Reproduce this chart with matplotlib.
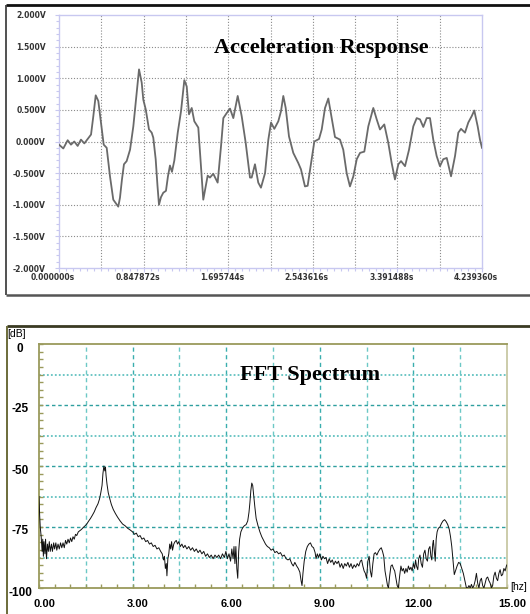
import matplotlib
matplotlib.use('Agg')
import matplotlib.pyplot as plt
from matplotlib.lines import Line2D
from matplotlib.ticker import MultipleLocator
import matplotlib.transforms as mtrans

# ---------------- data ----------------
acc_time = [0.000, 0.043, 0.087, 0.120, 0.153, 0.187, 0.220, 0.254, 0.288, 0.321,
            0.344, 0.368, 0.394, 0.421, 0.448, 0.478, 0.511, 0.544, 0.594, 0.611,
            0.631, 0.651, 0.678, 0.712, 0.745, 0.779, 0.802, 0.829, 0.845, 0.869,
            0.902, 0.929, 0.945, 0.969, 0.987, 1.002, 1.022, 1.045, 1.072, 1.092,
            1.112, 1.132, 1.156, 1.190, 1.223, 1.256, 1.280, 1.303, 1.330, 1.356,
            1.396, 1.423, 1.446, 1.490, 1.513, 1.546, 1.590, 1.624, 1.647, 1.681,
            1.714, 1.747, 1.791, 1.831, 1.871, 1.914, 1.931, 1.964, 1.997, 2.024,
            2.065, 2.098, 2.125, 2.158, 2.198, 2.225, 2.248, 2.272, 2.305, 2.348,
            2.398, 2.425, 2.465, 2.492, 2.526, 2.559, 2.606, 2.633, 2.666, 2.699,
            2.733, 2.766, 2.816, 2.849, 2.883, 2.916, 2.950, 2.984, 3.017, 3.060,
            3.100, 3.150, 3.184, 3.217, 3.260, 3.300, 3.334, 3.367, 3.401, 3.428,
            3.468, 3.508, 3.551, 3.585, 3.618, 3.651, 3.685, 3.718, 3.751, 3.785,
            3.818, 3.851, 3.886, 3.929, 3.969, 4.002, 4.029, 4.069, 4.102, 4.136,
            4.162, 4.196, 4.219, 4.239]
acc_volt = [-0.05, -0.11, 0.02, -0.05, 0.00, -0.07, 0.03, -0.03, 0.04, 0.11,
            0.40, 0.73, 0.64, 0.30, -0.05, -0.10, -0.55, -0.92, -1.03, -0.89,
            -0.60, -0.36, -0.31, -0.13, 0.24, 0.77, 1.14, 0.93, 0.66, 0.51,
            0.19, 0.14, 0.06, -0.28, -0.70, -1.00, -0.88, -0.81, -0.78, -0.55,
            -0.38, -0.48, -0.30, 0.14, 0.48, 0.97, 0.87, 0.43, 0.53, 0.32,
            0.22, -0.40, -0.92, -0.54, -0.57, -0.51, -0.65, -0.07, 0.37, 0.45,
            0.52, 0.37, 0.72, 0.40, -0.02, -0.57, -0.57, -0.36, -0.65, -0.73,
            -0.50, 0.03, 0.30, 0.20, 0.32, 0.48, 0.72, 0.53, 0.08, -0.18,
            -0.34, -0.44, -0.71, -0.70, -0.34, 0.00, 0.04, 0.19, 0.53, 0.68,
            0.37, 0.07, 0.03, -0.13, -0.50, -0.71, -0.55, -0.28, -0.18, -0.16,
            0.24, 0.53, 0.35, 0.19, 0.27, -0.02, -0.34, -0.60, -0.36, -0.31,
            -0.39, -0.13, 0.24, 0.37, 0.35, 0.23, 0.37, 0.37, 0.03, -0.23,
            -0.39, -0.28, -0.26, -0.55, -0.23, 0.14, 0.20, 0.14, 0.30, 0.40,
            0.49, 0.24, 0.03, -0.10]

acc_yticks = [2.0, 1.5, 1.0, 0.5, 0.0, -0.5, -1.0, -1.5, -2.0]
acc_ylabels = ['2.000V', '1.500V', '1.000V', '0.500V', '0.000V',
               '-0.500V', '-1.000V', '-1.500V', '-2.000V']
acc_xticks = [0.0, 0.847872, 1.695744, 2.543616, 3.391488, 4.239360]
acc_xlabels = ['0.000000s', '0.847872s', '1.695744s', '2.543616s', '3.391488s', '4.239360s']

fft_freq = [0.00, 0.02, 0.04, 0.07, 0.10, 0.12, 0.14, 0.16, 0.19, 0.21, 0.24, 0.27, 0.30, 0.33, 0.36,
            0.40, 0.43, 0.47, 0.50, 0.54, 0.57, 0.61, 0.65, 0.69, 0.73, 0.77, 0.81, 0.85, 0.89, 0.93,
            0.97, 1.01, 1.05, 1.09, 1.13, 1.17, 1.21, 1.26, 1.31, 1.36, 1.41, 1.47, 1.53, 1.59, 1.65,
            1.71, 1.77, 1.83, 1.89, 1.94, 1.98, 2.02, 2.05, 2.08, 2.11, 2.13, 2.15, 2.18, 2.22, 2.27,
            2.32, 2.38, 2.45, 2.52, 2.60, 2.68, 2.76, 2.84, 2.92, 3.00, 3.06, 3.12, 3.18, 3.24, 3.30,
            3.36, 3.42, 3.48, 3.54, 3.60, 3.66, 3.72, 3.78, 3.84, 3.90, 3.95, 3.99, 4.02, 4.05, 4.08,
            4.10, 4.13, 4.16, 4.19, 4.22, 4.25, 4.28, 4.32, 4.36, 4.40, 4.44, 4.48, 4.53, 4.58, 4.63,
            4.68, 4.74, 4.80, 4.86, 4.92, 4.98, 5.04, 5.10, 5.16, 5.22, 5.28, 5.34, 5.40, 5.46, 5.52,
            5.58, 5.64, 5.70, 5.76, 5.82, 5.88, 5.94, 5.99, 6.04, 6.09, 6.14, 6.18, 6.22, 6.25, 6.28,
            6.31, 6.34, 6.37, 6.40, 6.43, 6.47, 6.52, 6.58, 6.64, 6.69, 6.73, 6.76, 6.79, 6.82, 6.85,
            6.88, 6.92, 6.96, 7.02, 7.08, 7.14, 7.20, 7.26, 7.32, 7.38, 7.44, 7.50, 7.56, 7.62, 7.68,
            7.74, 7.80, 7.86, 7.92, 7.98, 8.04, 8.10, 8.15, 8.20, 8.26, 8.31, 8.36, 8.40, 8.43, 8.46,
            8.50, 8.55, 8.60, 8.65, 8.70, 8.75, 8.80, 8.85, 8.88, 8.92, 8.96, 9.00, 9.05, 9.10, 9.15,
            9.20, 9.25, 9.30, 9.35, 9.40, 9.45, 9.50, 9.55, 9.60, 9.65, 9.70, 9.75, 9.80, 9.85, 9.90,
            9.95, 10.00, 10.05, 10.10, 10.15, 10.20, 10.25, 10.30, 10.34, 10.38, 10.42, 10.46, 10.50, 10.54, 10.58,
            10.62, 10.66, 10.70, 10.74, 10.78, 10.83, 10.88, 10.93, 10.97, 11.01, 11.05, 11.09, 11.13, 11.17, 11.20,
            11.24, 11.28, 11.32, 11.36, 11.40, 11.44, 11.48, 11.52, 11.56, 11.60, 11.64, 11.68, 11.72, 11.76, 11.80,
            11.84, 11.88, 11.92, 11.96, 12.00, 12.04, 12.07, 12.10, 12.14, 12.17, 12.21, 12.25, 12.29, 12.33, 12.37,
            12.41, 12.45, 12.49, 12.53, 12.56, 12.59, 12.62, 12.64, 12.67, 12.70, 12.73, 12.76, 12.80, 12.85, 12.90,
            12.95, 13.00, 13.05, 13.10, 13.15, 13.19, 13.23, 13.27, 13.31, 13.35, 13.40, 13.45, 13.50, 13.55, 13.60,
            13.65, 13.70, 13.74, 13.78, 13.82, 13.86, 13.90, 13.94, 13.98, 14.02, 14.06, 14.10, 14.14, 14.18, 14.22,
            14.26, 14.30, 14.34, 14.38, 14.42, 14.46, 14.50, 14.54, 14.58, 14.62, 14.66, 14.70, 14.74, 14.78, 14.82,
            14.86, 14.90, 14.94, 14.98, 15.00]
fft_db = [-62.5, -70, -75, -79, -85, -80, -87, -81, -86, -80, -88, -82, -85, -81, -85,
          -82, -85, -81.5, -84, -81.5, -84.5, -82, -84, -81.5, -83.5, -81.5, -83.5, -80.5, -82, -80,
          -81.5, -79.5, -81, -79, -80, -78, -78.5, -77, -76.5, -76, -75.3, -74.6, -73.8, -72.6, -71.5,
          -70.2, -68.8, -67, -65.5, -63.5, -61, -58, -53, -50, -52, -50.5, -54, -57.5, -61, -63.5,
          -65.8, -67.8, -69.5, -71, -72.5, -73.8, -74.5, -75.5, -76.2, -77, -78, -77.5, -79, -78.5, -80,
          -79.5, -81, -80.5, -82, -81.5, -83, -82.5, -84, -83.5, -85, -86, -88.5, -87, -92, -90,
          -95, -88, -86, -82, -84, -81, -84.5, -82, -81, -80.5, -82, -81, -83, -82, -83.5,
          -82.5, -84, -83, -84.5, -83.5, -85, -84, -85.5, -84.5, -86, -85, -87, -86, -87.5, -86.5,
          -88, -86.5, -87.5, -86.5, -88, -86, -87.5, -85, -88, -86, -89, -84, -88, -83, -90,
          -83, -92, -96, -85, -80, -77, -75.5, -74.5, -74, -72.5, -69, -65, -60, -57, -58,
          -62, -67, -71.5, -74.5, -77, -79, -80.5, -82, -83, -83.5, -84.5, -84, -85.5, -85, -86,
          -85.5, -87, -86.5, -88, -88.5, -88, -90, -91, -89.5, -91, -92, -93.5, -97, -99, -94,
          -89, -85, -83, -82, -81.5, -83, -83.5, -85.5, -88, -86, -87.5, -86, -88.5, -87, -88,
          -87.5, -90, -88, -89.5, -88.5, -90.5, -89, -90, -89, -91.5, -90, -92, -90, -91, -89.5,
          -91.5, -90, -92, -90.5, -91.5, -90, -91, -89, -88.5, -91, -93, -94, -96, -89, -87,
          -93, -95.5, -90, -86, -85.5, -86.5, -85, -84, -83.5, -85, -87, -93, -96, -99, -100,
          -95, -91, -90.5, -92, -93, -96, -99, -100, -95, -91, -93, -92, -94, -92, -93.5,
          -91, -92.5, -91.5, -93, -90, -92, -88.5, -91, -92.5, -88, -86.5, -90, -91.5, -86, -84.5,
          -88, -89, -84, -83, -87, -88.5, -82, -80.5, -85, -89, -80, -77, -75.5, -75, -73.5,
          -72.5, -72, -72.8, -74, -76, -79, -83, -89, -94.5, -93, -91, -89.5, -90, -92, -94,
          -97, -100, -100, -99, -100, -98.5, -100, -99, -97, -94, -98, -100, -97, -96, -99,
          -100, -98, -96, -95.5, -97, -98, -100, -99, -95, -93.5, -96, -97, -94, -92.5, -95,
          -94.5, -92, -93, -91, -90.5]

fft_xticks = [0, 3, 6, 9, 12, 15]
fft_xlabels = ['0.00', '3.00', '6.00', '9.00', '12.00', '15.00']
fft_yticks = [0, -25, -50, -75, -100]
fft_ylabels = ['0', '-25', '-50', '-75', '-100']

# ---------------- layout ----------------
W, H = 530, 614
fig = plt.figure(figsize=(W / 100, H / 100), dpi=100)
fig.patch.set_facecolor('white')


def fx(px):
    return px / W


def fy(py):
    return 1 - py / H


def fline(x0, y0, x1, y1, color, lw):
    fig.add_artist(Line2D([fx(x0), fx(x1)], [fy(y0), fy(y1)], transform=fig.transFigure,
                          color=color, lw=lw, solid_capstyle='butt'))


# panel frames
fline(6, 5, 530, 5, '#111111', 2.0)
fline(6, 5, 6, 295, '#333333', 1.2)
fline(6, 295, 530, 295, '#555555', 1.8)

fline(7, 326, 530, 326, '#3a3a22', 2.0)
fline(7, 326, 7, 614, '#6b6b3a', 1.4)

NARROW = ['Liberation Sans', 'DejaVu Sans']

# ---------------- acceleration panel ----------------
ax1 = fig.add_axes([fx(59), fy(268), (482 - 59) / W, (268 - 15) / H])
xmax = acc_xticks[-1]
ax1.set_xlim(0, xmax)
ax1.set_ylim(-2, 2)
step = acc_xticks[1] / 2
for k in range(1, 10):
    ax1.axvline(k * step, color='#8a8a8a', lw=0.8, ls=(0, (1, 1.6)), zorder=1)
for yv in acc_yticks[1:-1]:
    ax1.axhline(yv, color='#8a8a8a', lw=0.8, ls=(0, (1, 1.6)), zorder=1)
ax1.plot(acc_time, acc_volt, color='#6a6a6a', lw=1.3, zorder=3)
for sp in ax1.spines.values():
    sp.set_color('#c8c8f0')
    sp.set_linewidth(1.0)
ax1.set_yticks(acc_yticks, acc_ylabels)
ax1.set_xticks(acc_xticks, acc_xlabels)
ax1.yaxis.set_minor_locator(MultipleLocator(0.1))
ax1.xaxis.set_minor_locator(MultipleLocator(step / 6))
ax1.tick_params(axis='both', which='both', direction='out', color='#c8c8f0', width=0.8)
ax1.tick_params(axis='both', which='major', length=3)
ax1.tick_params(axis='both', which='minor', length=2)
ax1.tick_params(axis='y', which='major', pad=6.5, labelsize=5.5, labelcolor='#333333')
ax1.tick_params(axis='x', which='major', pad=0.5, labelsize=5.5, labelcolor='#333333')
for lab in ax1.get_yticklabels() + ax1.get_xticklabels():
    lab.set_fontweight('bold')
for lab in ax1.get_xticklabels():
    lab.set_transform(lab.get_transform() + mtrans.ScaledTranslation(-0.06, 0, fig.dpi_scale_trans))
ax1.text(0.6194, 0.851, 'Acceleration Response', transform=ax1.transAxes, ha='center',
         va='baseline', family='Liberation Serif', fontweight='bold', fontsize=16, zorder=5)

# ---------------- FFT panel ----------------
ax2 = fig.add_axes([fx(39), fy(588), (507 - 39) / W, (588 - 344) / H])
ax2.set_xlim(0, 15)
ax2.set_ylim(-100, 0)
for k in range(1, 10):
    xv = k * 1.5
    col = '#3aaeae' if k % 2 == 0 else '#6cc8c6'
    ax2.axvline(xv, color=col, lw=1.0, ls=(0, (3, 2.5)), zorder=1)
for k in range(1, 8):
    yv = -12.5 * k
    if k % 2 == 0:
        ax2.axhline(yv, color='#2f9f9f', lw=1.0, ls=(0, (2.5, 2)), zorder=1)
    else:
        ax2.axhline(yv, color='#62c2c0', lw=1.3, ls=(0, (1, 1.2)), zorder=1)
ax2.plot(fft_freq, fft_db, color='#111111', lw=0.7, zorder=3)
for name, sp in ax2.spines.items():
    sp.set_color('#9a9a5c')
    sp.set_linewidth(1.3)
ax2.spines['right'].set_color('#c8c8a4')
ax2.set_xticks(fft_xticks, fft_xlabels)
ax2.set_yticks(fft_yticks, fft_ylabels)
ax2.xaxis.set_minor_locator(MultipleLocator(0.5))
ax2.yaxis.set_minor_locator(MultipleLocator(3.125))
ax2.tick_params(axis='both', which='both', direction='in', color='#9a9a5c', width=1.0, length=3)
ax2.tick_params(axis='y', which='major', pad=13.5, labelsize=8.5)
ax2.tick_params(axis='x', which='major', pad=8.0, labelsize=8)
ax2.tick_params(top=False, right=False, which='both')
for lab in ax2.get_yticklabels():
    lab.set_fontweight('bold')
    lab.set_family(NARROW)
    lab.set_horizontalalignment('center')
    lab.set_transform(lab.get_transform() + mtrans.ScaledTranslation(0, -0.03, fig.dpi_scale_trans))
for lab in ax2.get_xticklabels():
    lab.set_fontweight('bold')
    lab.set_family(NARROW)
    lab.set_transform(lab.get_transform() + mtrans.ScaledTranslation(0.05, 0, fig.dpi_scale_trans))
ax2.text(0.579, 0.8525, 'FFT Spectrum', transform=ax2.transAxes, ha='center', va='baseline',
         family='Liberation Serif', fontweight='bold', fontsize=16, zorder=5)

fig.text(fx(7.5), fy(334), '[dB]', ha='left', va='center', family=NARROW, fontsize=7.5)
fig.text(fx(510.5), fy(587), '[hz]', ha='left', va='center', family=NARROW, fontsize=7.5)

fig.savefig('out.png', dpi=100, facecolor='white')
